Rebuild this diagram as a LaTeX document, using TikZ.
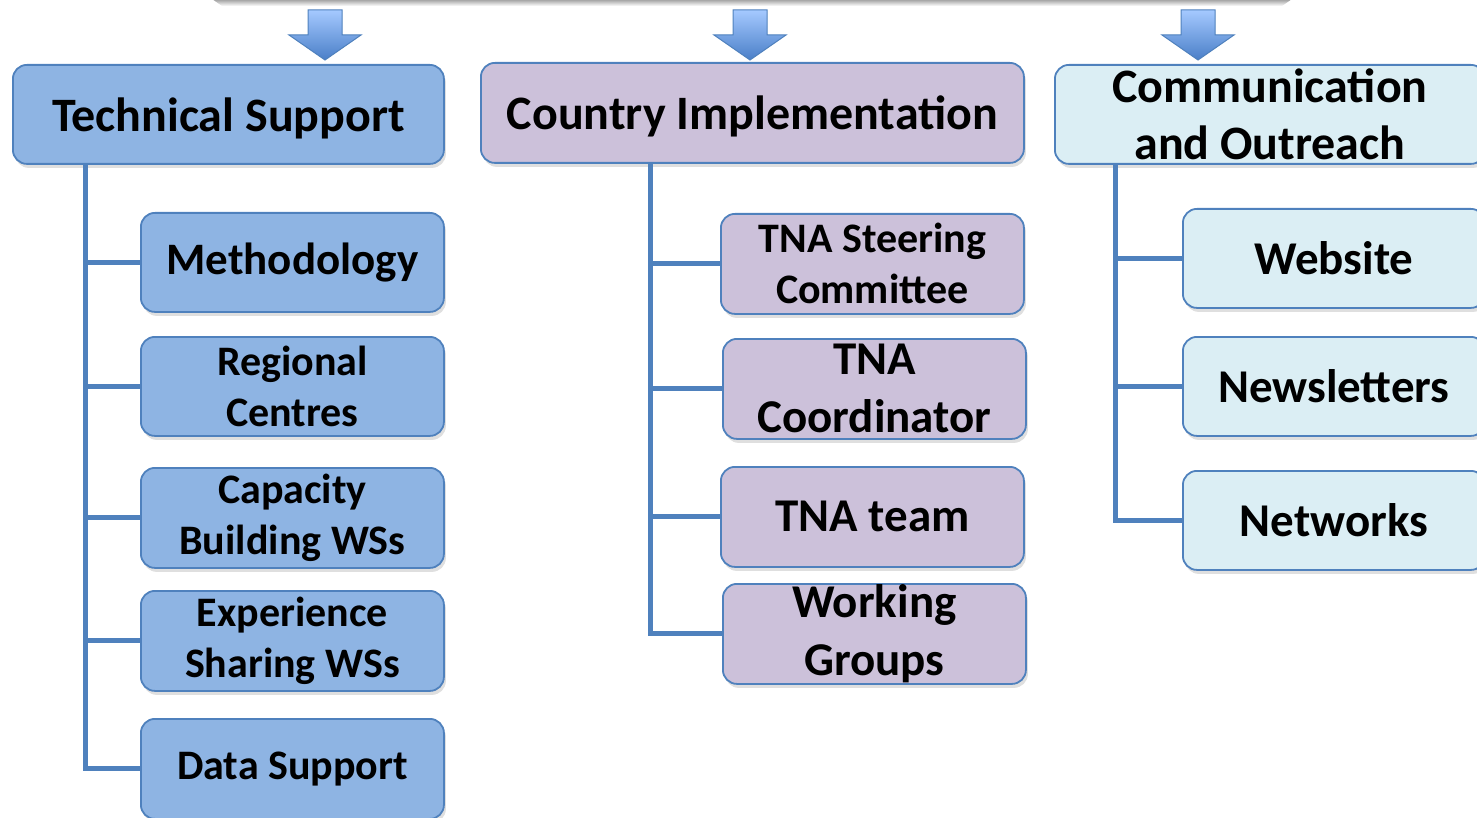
\documentclass[tikz,border=0pt]{standalone}
\usepackage{fontspec}
\setmainfont{Carlito}
\usetikzlibrary{shadows}
\definecolor{bfill}{HTML}{8EB4E3}
\definecolor{pfill}{HTML}{CCC1DA}
\definecolor{afill}{HTML}{DBEEF4}
\definecolor{edgeblue}{HTML}{4F81BD}
\definecolor{arrtop}{HTML}{A5C9FF}
\definecolor{arrbot}{HTML}{4A7FC8}
\newcommand{\hfont}{\fontsize{48}{57}\selectfont\bfseries}
\newcommand{\cfont}{\fontsize{42}{51}\selectfont\bfseries}
\newcommand{\mfont}{\fontsize{45}{51}\selectfont\bfseries}
\newcommand{\dfont}{\fontsize{47}{58}\selectfont\bfseries}
\tikzset{
  box/.style={rounded corners=14pt, draw=edgeblue, line width=1.8pt, align=center,
    inner sep=0pt, anchor=north west,
    drop shadow={shadow xshift=2pt, shadow yshift=-4pt, opacity=0.25}},
  bluebox/.style={box, fill=bfill},
  purplebox/.style={box, fill=pfill},
  aquabox/.style={box, fill=afill},
  conn/.style={draw=edgeblue, line width=5pt},
  blockarrow/.style={top color=arrtop, bottom color=arrbot, draw=edgeblue, line width=1pt}
}
\begin{document}
\begin{tikzpicture}[x=1pt,y=-1pt]
\useasboundingbox (0,0) rectangle (1477,818);
% shadow of the top box, out of frame
\shade[top color=black!40, bottom color=white] (212,-1) -- (1292,-1) -- (1282,6) -- (222,6) -- cycle;
% block arrows
\foreach \cx in {325,750,1198}{
  \shade[blockarrow] (\cx-17,10) -- (\cx+17,10) -- (\cx+17,35) -- (\cx+36,35) -- (\cx,60) -- (\cx-36,35) -- (\cx-17,35) -- cycle;
}
% left column
\node[bluebox, minimum width=431pt, minimum height=99pt, font=\hfont, text depth=0pt] (ts) at (12,64) {Technical Support};
\node[bluebox, minimum width=303pt, minimum height=99pt, font=\mfont] (meth) at (140,212) {Methodology};
\node[bluebox, minimum width=303pt, minimum height=99pt, font=\cfont] (rc) at (140,336) {Regional\\Centres};
\node[bluebox, minimum width=303pt, minimum height=100pt, font=\cfont] (cb) at (140,467) {Capacity\\Building WSs};
\node[bluebox, minimum width=303pt, minimum height=100pt, font=\cfont] (es) at (140,590) {Experience\\Sharing WSs};
\node[bluebox, minimum width=303pt, minimum height=100pt, font=\cfont] (ds) at (140,718) {Data Support};
% middle column
\node[purplebox, minimum width=543pt, minimum height=100pt, font=\hfont, text depth=0pt] (ci) at (480,62) {Country Implementation};
\node[purplebox, minimum width=303pt, minimum height=100pt, font=\cfont] (tsc) at (720,213) {TNA Steering\\Committee};
\node[purplebox, minimum width=303pt, minimum height=100pt, font=\dfont] (tc) at (722,338) {TNA\\Coordinator};
\node[purplebox, minimum width=303pt, minimum height=100pt, font=\dfont] (tt) at (720,466) {TNA team};
\node[purplebox, minimum width=303pt, minimum height=100pt, font=\dfont] (wg) at (722,583) {Working\\Groups};
% right column
\node[aquabox, minimum width=430pt, minimum height=99pt, font=\hfont] (co) at (1054,64) {Communication\\and Outreach};
\node[aquabox, minimum width=302pt, minimum height=99pt, font=\dfont] (web) at (1182,208) {Website};
\node[aquabox, minimum width=302pt, minimum height=99pt, font=\dfont] (nl) at (1182,336) {Newsletters};
\node[aquabox, minimum width=302pt, minimum height=99pt, font=\dfont] (nw) at (1182,470) {Networks};
% trunks
\coordinate (tsr) at ([xshift=73pt]ts.south west);
\coordinate (cir) at ([xshift=170pt]ci.south west);
\coordinate (cor) at ([xshift=61pt]co.south west);
\foreach \c in {meth,rc,cb,es,ds}{ \draw[conn] (tsr) |- (\c.west); }
\foreach \c in {tsc,tc,tt,wg}{ \draw[conn] (cir) |- (\c.west); }
\foreach \c in {web,nl,nw}{ \draw[conn] (cor) |- (\c.west); }
\end{tikzpicture}
\end{document}
